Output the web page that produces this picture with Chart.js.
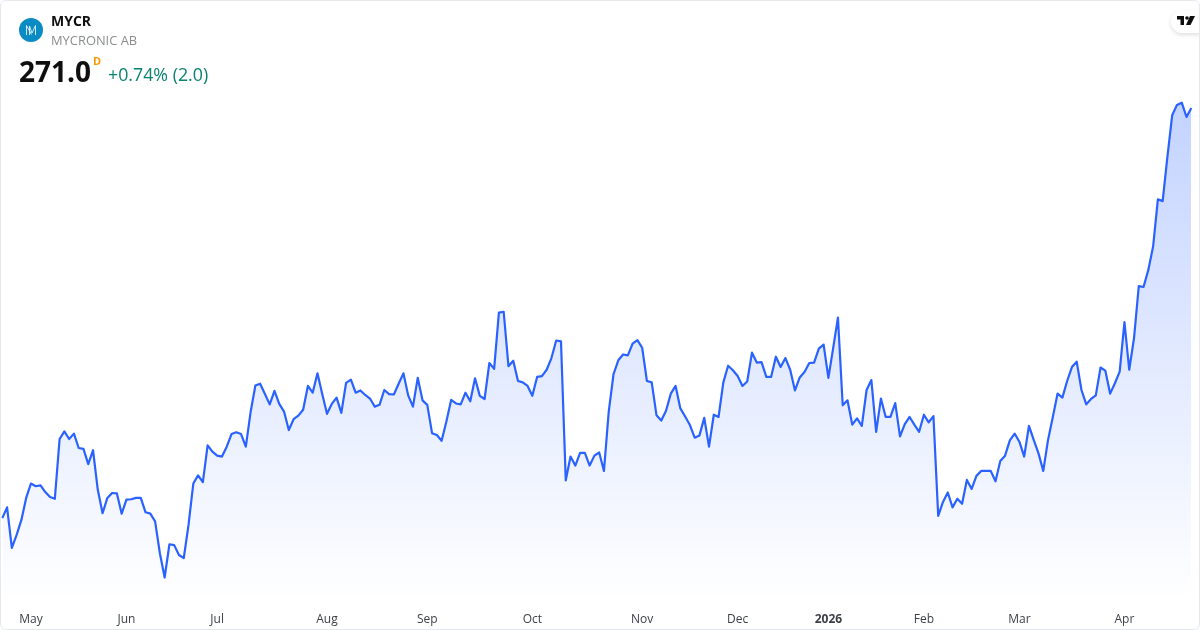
<!DOCTYPE html>
<html>
<head>
<meta charset="utf-8">
<script src="https://cdn.jsdelivr.net/npm/chart.js@4"></script>
<style>
html,body{margin:0;padding:0;background:#fff;}
#wrap{position:relative;width:1200px;height:630px;overflow:hidden;font-family:"Open Sans","Noto Sans",sans-serif;background:#fff;}
#frame{position:absolute;left:0;top:0;width:1198px;height:628px;border:1px solid #e6e8ee;border-radius:6px;pointer-events:none;z-index:3;}
canvas{position:absolute;left:0;top:0;}
.t{position:absolute;white-space:nowrap;z-index:2;}
#sym{left:51px;top:12px;font-size:14px;font-weight:700;color:#0f0f0f;line-height:18px;}
#name{left:51px;top:31px;font-size:12.9px;color:#8a8d8f;line-height:18px;}
#price{left:19px;top:52px;font-size:28px;font-weight:700;color:#0f0f0f;line-height:38px;}
#res{left:93px;top:54px;font-size:11px;font-weight:700;color:#ff9800;line-height:14px;}
#chg{left:108px;top:62px;font-size:17.8px;color:#0b8270;line-height:24px;}
#logo{position:absolute;left:19px;top:18px;width:24px;height:24px;border-radius:50%;background:#0b8bc3;z-index:2;}
#tv{position:absolute;left:1171px;top:10px;width:40px;height:23px;border-radius:12px;background:#fff;box-shadow:0 2px 4px rgba(0,0,0,.13);z-index:2;}
</style>
</head>
<body>
<div id="wrap">
<canvas id="c" width="1200" height="630"></canvas>
<div id="logo"><svg width="24" height="24" viewBox="0 0 24 24"><path d="M7.5 17V7.5L12.5 16.5M10.5 17V8L13 15 16.5 7.5V17" fill="none" stroke="#fff" stroke-width="0.8"/></svg></div>
<div class="t" id="sym">MYCR</div>
<div class="t" id="name">MYCRONIC AB</div>
<div class="t" id="price">271.0</div>
<div class="t" id="res">D</div>
<div class="t" id="chg">+0.74% (2.0)</div>
<div id="tv"><svg width="18" height="10" viewBox="0 0 18 10" style="position:absolute;left:6px;top:6px"><path d="M0 0H7V9H3.5V3.5H0Z M13 0H18L13.5 9H9Z" fill="#0f0f0f"/><circle cx="10" cy="2" r="1.8" fill="#0f0f0f"/></svg></div>
<div id="frame"></div>
</div>
<script>
const prices = [
179.8,182.2,173.2,176.1,179.4,184.3,187.5,186.9,187.1,185.6,184.5,184.1,197.4,199.1,197.4,198.6,195.4,195.2,191.8,194.9,
186.1,180.9,184.3,185.4,185.3,180.8,183.9,184.0,184.3,184.3,181.1,180.8,179.1,172.0,166.6,174.0,173.8,171.6,170.9,178.3,
187.5,189.3,187.8,196.0,194.6,193.7,193.5,195.7,198.5,198.9,198.5,195.7,203.4,209.3,209.7,207.4,205.1,208.1,205.2,203.5,
199.4,201.8,202.6,203.9,209.2,207.7,212.0,207.4,203.0,205.2,206.6,203.2,209.9,210.6,207.7,208.2,207.2,206.4,204.6,205.0,
208.3,207.4,207.3,209.7,212.0,207.1,204.6,211.0,206.0,205.0,198.7,198.3,197.0,201.3,206.1,205.3,205.1,207.7,205.8,210.9,
207.0,206.3,214.3,213.0,225.5,225.7,213.6,214.8,210.3,210.0,209.2,207.0,211.2,211.4,212.8,215.4,219.3,219.1,188.2,193.5,
191.5,194.3,194.3,191.5,193.7,194.4,190.3,203.5,211.8,214.9,216.2,216.0,218.6,219.4,217.7,210.3,210.0,202.7,201.5,203.7,
207.5,209.2,204.2,202.4,200.5,197.7,198.2,202.1,195.7,202.8,202.3,210.0,213.7,212.7,211.4,209.2,210.2,216.6,214.4,214.5,
211.2,211.2,215.7,213.4,215.4,212.8,208.2,211.1,212.3,214.3,214.4,217.5,218.4,211.0,217.6,224.4,204.9,206.0,200.6,202.0,
200.3,208.3,210.5,199.0,206.4,202.3,202.3,205.4,198.0,200.7,202.3,200.6,199.0,202.8,201.1,202.5,180.3,183.4,185.5,182.2,
184.1,183.0,188.3,186.3,189.2,190.3,190.3,190.3,188.0,192.5,193.7,197.1,198.6,196.8,193.5,200.3,197.2,194.2,190.3,197.2,
202.3,207.5,206.6,210.3,213.4,214.6,208.3,205.1,206.3,207.1,213.3,212.6,207.5,209.8,212.4,223.4,212.8,219.8,231.4,231.2,
235.0,240.2,250.7,250.3,260.2,269.4,271.7,272.2,269.0,271.0];
const tickLabels = ['May','Jun','Jul','Aug','Sep','Oct','Nov','Dec','2026','Feb','Mar','Apr'];
const tickIndices = [6,26,45,68,89,111,134,154,173,193,213,235];
const categories = prices.map(() => '');
tickIndices.forEach((k, n) => { categories[k] = tickLabels[n]; });

new Chart(document.getElementById('c'), {
  type: 'line',
  data: {
    labels: categories,
    datasets: [{
      data: prices,
      borderColor: '#2962FF',
      borderWidth: 2.2,
      tension: 0,
      pointRadius: 0,
      borderJoinStyle: 'round',
      fill: 'origin',
      backgroundColor(ctx) {
        const a = ctx.chart.chartArea;
        if (!a) return 'rgba(41,98,255,0.1)';
        const g = ctx.chart.ctx.createLinearGradient(0, 103, 0, a.bottom);
        g.addColorStop(0, 'rgba(41,98,255,0.28)');
        g.addColorStop(1, 'rgba(41,98,255,0)');
        return g;
      }
    }]
  },
  options: {
    responsive: false,
    animation: false,
    events: [],
    layout: { padding: { left: 2.3, right: 8.7, top: 1, bottom: 0 } },
    plugins: { legend: { display: false }, tooltip: { enabled: false } },
    scales: {
      x: {
        type: 'category',
        offset: false,
        grid: { display: false },
        border: { display: false },
        afterFit(s) { s.height = 30; s.paddingLeft = 0; s.paddingRight = 0; },
        ticks: {
          autoSkip: false,
          maxRotation: 0,
          padding: 4,
          color: '#3c3f45',
          font(ctx) {
            const isYear = ctx.tick && /^\d{4}$/.test(ctx.tick.label);
            return { family: '"Open Sans","Noto Sans",sans-serif', size: 12, weight: isYear ? '700' : '400' };
          }
        }
      },
      y: { display: false, min: 161.6, max: 294.8 }
    }
  }
});
</script>
</body>
</html>
